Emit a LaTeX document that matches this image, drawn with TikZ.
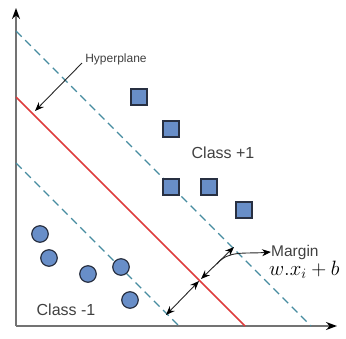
\documentclass[tikz,border=0pt]{standalone}
\usepackage{fontspec}
\setmainfont{Liberation Sans}
\usetikzlibrary{arrows.meta}
\definecolor{axisgray}{RGB}{115,115,115}
\definecolor{hypred}{RGB}{222,60,60}
\definecolor{margteal}{RGB}{70,140,160}
\definecolor{ptfill}{RGB}{104,142,200}
\definecolor{ptborder}{RGB}{40,48,66}
\definecolor{txtgray}{RGB}{64,64,64}
\begin{document}
\begin{tikzpicture}[x=1pt,y=-1pt,
  axis/.style={draw=axisgray,line width=1.6pt,-{Stealth[length=11pt,width=8pt,black]}},
  hyper/.style={draw=hypred,line width=1.5pt},
  marginline/.style={draw=margteal,line width=1.3pt,dash pattern=on 8pt off 5pt},
  sqpt/.style={rectangle,draw=ptborder,fill=ptfill,line width=1.2pt,minimum size=16pt,inner sep=0pt},
  cpt/.style={circle,draw=ptborder,fill=ptfill,line width=1.2pt,minimum size=16.5pt,inner sep=0pt},
  lbl/.style={text=txtgray,inner sep=0pt},
  dblarrow/.style={draw=black!85,line width=0.9pt,{Stealth[length=9pt,width=7pt,black]}-{Stealth[length=9pt,width=7pt,black]}},
  onearrow/.style={draw=black!85,line width=0.9pt,-{Stealth[length=9pt,width=7pt,black]}}
]
\useasboundingbox (0,0) rectangle (346,338);
% axes
\coordinate (O) at (16,326);
\coordinate (ytop) at (16,8);
\coordinate (xend) at (337,326);
\draw[axis] (O) -- (ytop);
\draw[axis] (O) -- (xend);
% lines
\coordinate (u1) at (16,31);
\coordinate (u2) at (311,326);
\coordinate (r1) at (16,97);
\coordinate (r2) at (245,326);
\coordinate (l1) at (16,163);
\coordinate (l2) at (179,326);
\draw[marginline] (u1) -- (u2);
\draw[marginline] (l1) -- (l2);
\draw[hyper] (r1) -- (r2);
% points
\node[sqpt] (s1) at (139,97) {};
\node[sqpt] (s2) at (171,129) {};
\node[sqpt] (s3) at (171,187) {};
\node[sqpt] (s4) at (209,187) {};
\node[sqpt] (s5) at (244,210) {};
\node[cpt] (c1) at (40,234) {};
\node[cpt] (c2) at (49,258) {};
\node[cpt] (c3) at (88,274) {};
\node[cpt] (c4) at (121,267) {};
\node[cpt] (c5) at (130,300) {};
% labels
\node[lbl,font=\fontsize{12}{13}\selectfont] (hyp) at (116,59) {Hyperplane};
\node[lbl,font=\fontsize{16}{18}\selectfont] (cp) at (223,153) {Class +1};
\node[lbl,font=\fontsize{16}{18}\selectfont] (cm) at (66,310) {Class -1};
\node[lbl,font=\fontsize{15.5}{17}\selectfont,anchor=west] (mg) at (271,252) {Margin};
\node[inner sep=0pt,anchor=west,font=\fontsize{20}{22}\selectfont] (eq) at (269,270) {$w.x_{i}+b$};
% hyperplane arrow
\coordinate (ha) at (82,63);
\coordinate (hb) at (35,111);
\draw[onearrow] (ha) -- (hb);
% margin arrows
\coordinate (m1) at (166,315);
\coordinate (m2) at (199,281);
\coordinate (m3) at (201,279);
\coordinate (m4) at (234,247);
\coordinate (mm) at (217,264);
\draw[dblarrow] (m1) -- (m2);
\draw[dblarrow] (m3) -- (m4);
\draw[onearrow] (mm) .. controls (228,250) and (245,254) .. (mg.west);
\end{tikzpicture}
\end{document}
